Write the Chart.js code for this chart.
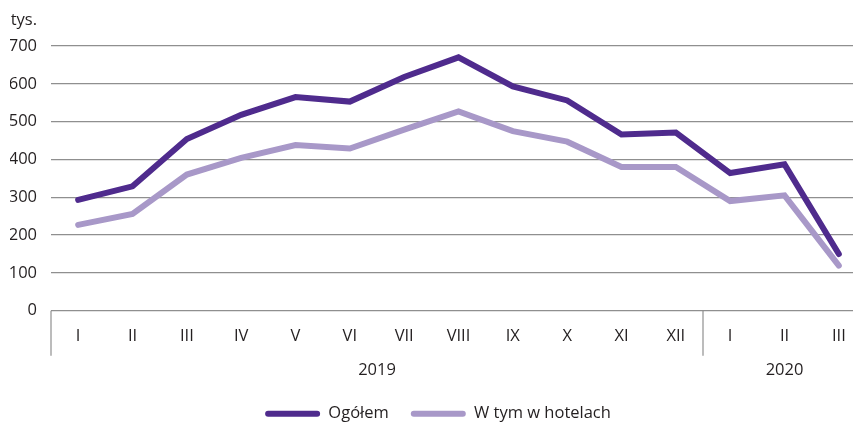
<!DOCTYPE html>
<html>
<head>
<meta charset="utf-8">
<script src="https://cdn.jsdelivr.net/npm/chart.js@4"></script>
<style>
html,body{margin:0;padding:0;overflow:hidden;background:#fff;width:853px;height:423px;}
#wrap{width:870px;height:423px;}
</style>
</head>
<body>
<div id="wrap"><canvas id="c" width="870" height="423"></canvas></div>
<script>
const categories = ["I","II","III","IV","V","VI","VII","VIII","IX","X","XI","XII","I","II","III"];
const years = [{label:"2019", from:0, to:11},{label:"2020", from:12, to:14}];
const ogolem = [293,329,454,518,565,553,618,670,593,556,466,471,364,387,150];
const hotele = [227,256,360,404,438,429,479,527,475,447,380,380,290,305,119];
const yTicks = [0,100,200,300,400,500,600,700];
const unitLabel = "tys.";

const FONT = "'Open Sans', sans-serif";
const FS = 16.5;
const TXT = "#231f20";
const GRID = "#8f8f8f";

const extras = {
  id:'extras',
  afterDraw(chart){
    const ctx = chart.ctx;
    const x = chart.scales.x, y = chart.scales.y;
    const base = y.getPixelForValue(0);
    const half = (x.getPixelForValue(1) - x.getPixelForValue(0))/2;
    ctx.save();
    ctx.strokeStyle = GRID; ctx.lineWidth = 1.2;
    const seps = [x.getPixelForValue(0) - half];
    for (let i=1;i<years.length;i++) seps.push(x.getPixelForValue(years[i].from) - half);
    seps.forEach(px=>{
      ctx.beginPath(); ctx.moveTo(px, base); ctx.lineTo(px, base+45); ctx.stroke();
    });
    ctx.fillStyle = TXT;
    ctx.font = FS + "px " + FONT;
    ctx.textAlign = 'center'; ctx.textBaseline = 'middle';
    years.forEach(yr=>{
      const cx = (x.getPixelForValue(yr.from) + x.getPixelForValue(yr.to))/2;
      ctx.fillText(yr.label, cx, base+60);
    });
    ctx.textAlign = 'right';
    ctx.fillText(unitLabel, y.right - 14, y.getPixelForValue(700) - 26);
    ctx.restore();
  }
};

new Chart(document.getElementById('c'), {
  type:'line',
  data:{
    labels: categories,
    datasets:[
      {label:'Ogółem', data: ogolem, borderColor:'#4f2b8d', backgroundColor:'#4f2b8d', borderWidth:6, pointRadius:0, tension:0, borderCapStyle:'round', borderJoinStyle:'miter'},
      {label:'W tym w hotelach', data: hotele, borderColor:'#a898c8', backgroundColor:'#a898c8', borderWidth:6, pointRadius:0, tension:0, borderCapStyle:'round', borderJoinStyle:'miter'}
    ]
  },
  options:{
    responsive:false,
    animation:false,
    layout:{padding:{left:10, right:4, top:46, bottom:-9}},
    plugins:{
      legend:{
        position:'bottom',
        labels:{
          font:{family:FONT, size:FS}, color:TXT,
          boxWidth:55, boxHeight:6, padding:22, useBorderRadius:true, borderRadius:3,
          generateLabels(chart){
            return chart.data.datasets.map((d,i)=>({text:d.label, fillStyle:d.borderColor, strokeStyle:d.borderColor, lineWidth:0, borderRadius:3, datasetIndex:i, fontColor:TXT}));
          }
        }
      },
      tooltip:{enabled:false}
    },
    scales:{
      x:{
        offset:true,
        grid:{display:false},
        border:{display:false},
        ticks:{font:{family:FONT, size:FS}, color:TXT, padding:8, maxRotation:0, autoSkip:false},
        afterFit(s){ s.height += 29; }
      },
      y:{
        min:0, max:700,
        afterBuildTicks(s){ s.ticks = yTicks.map(v=>({value:v})); },
        afterFit(s){ s.width = 41; },
        grid:{color:GRID, lineWidth:1.2, drawTicks:false},
        border:{display:false},
        ticks:{font:{family:FONT, size:FS}, color:TXT, padding:14}
      }
    }
  },
  plugins:[extras]
});
</script>
</body>
</html>
